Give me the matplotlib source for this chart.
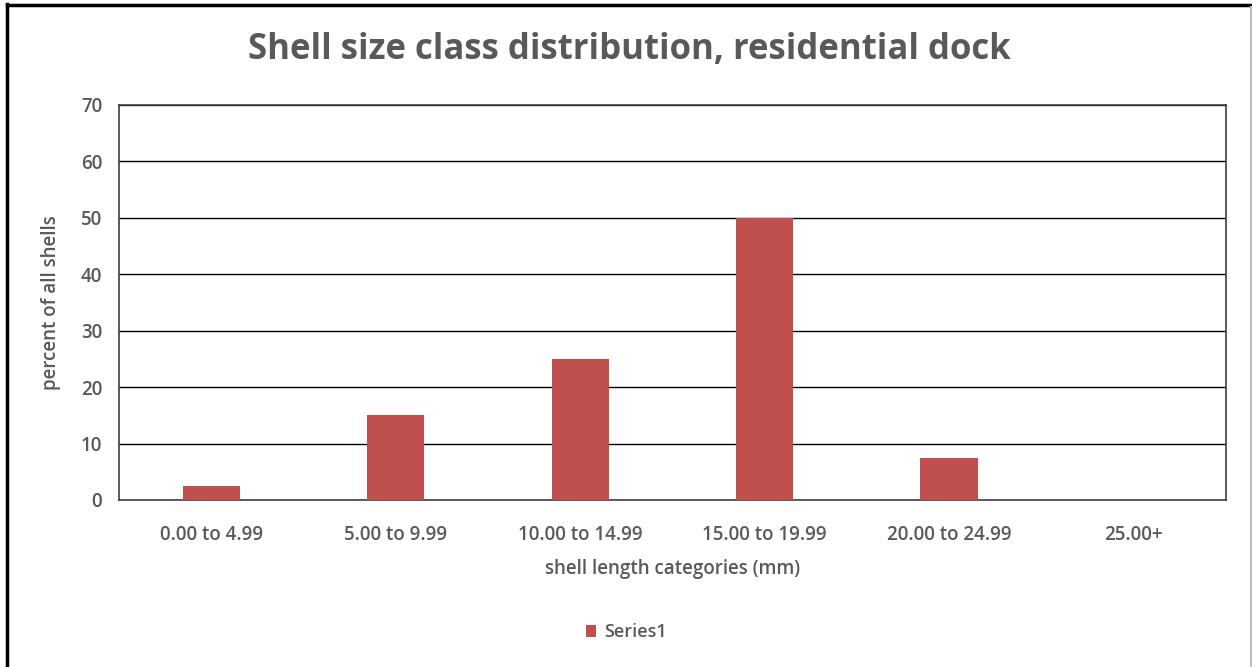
import matplotlib.pyplot as plt
from matplotlib.lines import Line2D

categories = ['0.00 to 4.99', '5.00 to 9.99', '10.00 to 14.99',
              '15.00 to 19.99', '20.00 to 24.99', '25.00+']
percent = [2.5, 15, 25, 50, 7.5, 0]
yticks = [0, 10, 20, 30, 40, 50, 60, 70]

plt.rcParams['font.family'] = ['Open Sans', 'DejaVu Sans']
gray = '#595959'
bar_color = '#c0504d'

fig = plt.figure(figsize=(12.52, 6.67), dpi=100)
ax = fig.add_axes([0.095, 0.2504, 0.884, 0.5922])

x = range(len(categories))
ax.bar(x, percent, width=0.31, color=bar_color, label='Series1', zorder=3)

ax.set_xlim(-0.5, len(categories) - 0.5)
ax.set_ylim(0, 70)
ax.set_yticks(yticks)
ax.set_xticks(list(x))
ax.set_xticklabels(categories)
ax.tick_params(axis='x', length=0, colors=gray, labelsize=13.5, pad=18)
ax.tick_params(axis='y', length=0, colors=gray, labelsize=13.5, pad=12)
for lbl in ax.get_xticklabels() + ax.get_yticklabels():
    lbl.set_fontweight('semibold')
ax.yaxis.grid(True, color='black', linewidth=1.0, zorder=0)
for s in ax.spines.values():
    s.set_color('#404040')
    s.set_linewidth(1.2)

ax.set_xlabel('shell length categories (mm)', fontsize=13.5, color=gray,
              fontweight='semibold', labelpad=10)
ax.set_ylabel('percent of all shells', fontsize=13.5, color=gray,
              fontweight='semibold', labelpad=14)

fig.text(0.503, 0.925, 'Shell size class distribution, residential dock',
         ha='center', va='center', fontsize=25, fontweight='bold', color=gray)

leg = fig.legend(loc='center', bbox_to_anchor=(0.5, 0.052), frameon=False,
                 fontsize=13, handlelength=0.6, handleheight=0.6,
                 handletextpad=0.4)
for t in leg.get_texts():
    t.set_color(gray)
    t.set_fontweight('semibold')

# outer frame of the pasted chart
fig.add_artist(Line2D([0.0056, 0.0056], [0, 0.994], color='black', linewidth=2.5,
                      transform=fig.transFigure))
fig.add_artist(Line2D([0.0056, 1], [0.9925, 0.9925], color='black', linewidth=2.5,
                      transform=fig.transFigure))
fig.add_artist(Line2D([0.9992, 0.9992], [0, 0.99], color='#c0c0c0', linewidth=1.5,
                      transform=fig.transFigure))

fig.savefig('out.png', dpi=100)
